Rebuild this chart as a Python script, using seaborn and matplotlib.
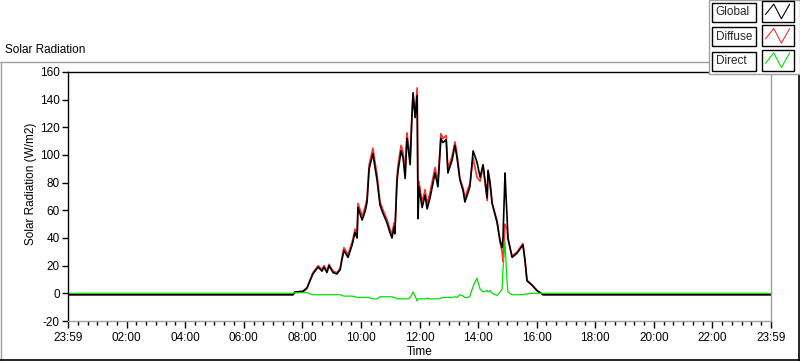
import numpy as np
import pandas as pd
import matplotlib
matplotlib.use("Agg")
import matplotlib.pyplot as plt
import seaborn as sns
from matplotlib.lines import Line2D
from matplotlib.patches import Rectangle
from matplotlib.path import Path
from matplotlib.legend_handler import HandlerBase
from matplotlib.ticker import MultipleLocator, FixedLocator

# ---------------- data (hours since 23:59 of previous day) ----------------
hours = [0, 7.68, 7.75, 8.02, 8.16, 8.26, 8.36, 8.54, 8.67, 8.74,
         8.84, 8.91, 9.05, 9.18, 9.29, 9.35, 9.42, 9.56, 9.70, 9.80,
         9.87, 9.90, 10.04, 10.14, 10.21, 10.28, 10.41, 10.48, 10.55, 10.65,
         10.75, 10.89, 10.99, 11.06, 11.13, 11.16, 11.23, 11.27, 11.37, 11.44,
         11.51, 11.57, 11.61, 11.68, 11.74, 11.78, 11.85, 11.92, 11.95, 11.98,
         12.09, 12.19, 12.26, 12.36, 12.53, 12.63, 12.73, 12.80, 12.91, 12.97,
         13.11, 13.21, 13.28, 13.38, 13.49, 13.55, 13.66, 13.72, 13.83, 13.96,
         14.07, 14.17, 14.31, 14.34, 14.41, 14.48, 14.65, 14.75, 14.82, 14.85,
         14.92, 14.95, 14.99, 15.02, 15.16, 15.33, 15.53, 15.60, 15.67, 15.84,
         16.01, 16.22, 24]

global_rad = [-1.0, -1.0, 1, 1.5, 4, 9, 14, 19, 16, 19,
              15, 20, 15, 14, 17, 24, 31, 26, 35, 44,
              40, 62, 53, 59, 66, 90, 101, 91, 82, 64,
              58, 51, 44, 40, 48, 43, 80, 89, 103, 98,
              83, 112, 106, 93, 127, 145, 127, 143, 54, 77,
              62, 71, 61, 69, 87, 77, 112, 109, 111, 87,
              96, 107, 98, 82, 74, 66, 73, 77, 103, 95,
              84, 93, 69, 89, 80, 65, 51, 38, 33, 40,
              87, 72, 55, 40, 26, 29, 35, 24, 9, 6,
              2, -1.0, -1.0]

diffuse_rad = [-1.0, -1.0, 0.5, 1, 3.5, 9.5, 15, 20, 17, 20,
               16, 21, 16, 15, 18, 25.5, 33, 28, 37, 46.5,
               43, 65, 56, 62, 69, 93, 105, 95, 86, 66.5,
               60.5, 53.5, 46.5, 42.5, 51, 46, 84, 93, 107, 102,
               87, 116, 110, 96, 128, 144, 129, 148.5, 58, 81,
               66, 75, 64.5, 73, 91, 81, 115.5, 112, 114, 90,
               99, 109.5, 101, 83, 76, 69, 76, 79, 98, 84,
               81, 92, 67, 88, 78, 65, 52.5, 37, 30, 23,
               50, 48, 47, 39, 27, 30, 36, 24.5, 9.5, 6,
               2, -1.0, -1.0]

direct_rad = [0, 0, 0.5, 0.5, 0.5, -0.5, -1, -1, -1, -1,
              -1, -1, -1, -1, -1, -1.5, -2, -2, -2, -2.5,
              -3, -3, -3, -3, -3, -3, -4, -4, -4, -2.5,
              -2.5, -2.5, -2.5, -2.5, -3, -3, -4, -4, -4, -4,
              -4, -4, -4, -3, -1, 1, -2, -5.5, -4, -4,
              -4, -4, -3.5, -4, -4, -4, -3.5, -3, -3, -3,
              -3, -2.5, -3, -1, -2, -3, -3, -2, 5, 11,
              3, 1, 2, 1, 2, 0, -1.5, 1, 3, 17,
              37, 24, 8, 1, -1, -1, -1, -0.5, -0.5, 0,
              0, 0, 0]

series_names = ["Global", "Diffuse", "Direct"]
series_colors = {"Global": "#000000", "Diffuse": "#ff3030", "Direct": "#00e000"}
tick_hours = [0, 2, 4, 6, 8, 10, 12, 14, 16, 18, 20, 22, 24]
tick_labels = ["23:59", "02:00", "04:00", "06:00", "08:00", "10:00", "12:00",
               "14:00", "16:00", "18:00", "20:00", "22:00", "23:59"]
y_ticks = [-20, 0, 20, 40, 60, 80, 100, 120, 140, 160]

df = pd.concat([
    pd.DataFrame({"Time": hours, "Value": global_rad, "Series": "Global"}),
    pd.DataFrame({"Time": hours, "Value": diffuse_rad, "Series": "Diffuse"}),
    pd.DataFrame({"Time": hours, "Value": direct_rad, "Series": "Direct"}),
], ignore_index=True)

# ---------------- figure ----------------
sns.set_theme(style="white")
plt.rcParams["font.family"] = ["Liberation Sans", "DejaVu Sans"]

W, H = 800, 361
fig = plt.figure(figsize=(8.0, 3.61), dpi=100)
fig.patch.set_facecolor("white")
ax = fig.add_axes([68 / W, 1 - 321 / H, (771 - 68) / W, (321 - 72) / H])
ax.set_facecolor("white")

sns.lineplot(data=df, x="Time", y="Value", hue="Series",
             hue_order=["Diffuse", "Global", "Direct"],
             palette=series_colors, estimator=None, sort=False,
             legend=False, ax=ax, linewidth=1.2)
for ln in ax.get_lines():
    if ln.get_color() == "#00e000":
        ln.set_linewidth(0.9)

ax.set_xlim(0, 24)
ax.set_ylim(-20, 160)
ax.xaxis.set_major_locator(FixedLocator(tick_hours))
ax.set_xticklabels(tick_labels)
ax.xaxis.set_minor_locator(MultipleLocator(1 / 3))
ax.set_yticks(y_ticks)
ax.set_yticklabels([str(v) for v in y_ticks])

ax.tick_params(axis="x", which="major", direction="out", length=5, width=1,
               color="black", labelsize=8.5, labelcolor="black", pad=3,
               bottom=True)
ax.tick_params(axis="x", which="minor", direction="out", length=3, width=1,
               color="black", bottom=True)
ax.tick_params(axis="y", which="major", direction="out", length=4, width=1,
               color="black", labelsize=8.5, labelcolor="black", pad=2,
               left=True)

for side in ["left", "top"]:
    ax.spines[side].set_color("black")
    ax.spines[side].set_linewidth(1)
    ax.spines[side].set_visible(True)
for side in ["right", "bottom"]:
    ax.spines[side].set_color("#a0a0a0")
    ax.spines[side].set_linewidth(1)
    ax.spines[side].set_visible(True)

ax.set_xlabel("Time", fontsize=8.5, color="black")
ax.xaxis.set_label_coords(0.5, -0.1)
ax.set_ylabel("Solar Radiation (W/m2)", fontsize=8.5, color="black")
ax.yaxis.set_label_coords(-0.044, 0.55)

fig.text(5 / W, 1 - 50 / H, "Solar Radiation", fontsize=8.5, ha="left",
         va="center", color="black")

# outer frame (LabVIEW-like)
fig.add_artist(Line2D([0, 717 / W], [1 - 62 / H, 1 - 62 / H], color="#a0a0a0",
                      lw=1, transform=fig.transFigure))
fig.add_artist(Line2D([0.5 / W, 0.5 / W], [1 - 62 / H, 0], color="#a0a0a0",
                      lw=1, transform=fig.transFigure))
fig.add_artist(Line2D([0, 1], [0.6 / H, 0.6 / H], color="black",
                      lw=1.2, transform=fig.transFigure))
fig.add_artist(Line2D([1 - 0.6 / W, 1 - 0.6 / W], [0, 1 - 72 / H], color="black",
                      lw=1.2, transform=fig.transFigure))


# ---------------- legend ----------------
class ZigHandler(HandlerBase):
    def create_artists(self, legend, orig_handle, xdescent, ydescent,
                       width, height, fontsize, trans):
        x0, y0 = -xdescent, -ydescent - 4
        w, h = width, height + 8
        box = Rectangle((x0, y0), w, h, fill=False, edgecolor="black",
                        lw=1.0, transform=trans)
        fx = np.array([0.12, 0.38, 0.62, 0.88])
        fy = np.array([0.35, 0.85, 0.15, 0.85])
        zig = Line2D(x0 + fx * w, y0 + fy * h, color=orig_handle.get_color(),
                     lw=0.8, transform=trans)
        return [box, zig]


handles = [Line2D([], [], color=series_colors[n]) for n in series_names]
leg = fig.legend(handles, series_names, loc="upper right",
                 bbox_to_anchor=(1.0, 1.0), bbox_transform=fig.transFigure,
                 markerfirst=False, frameon=True, fancybox=False,
                 edgecolor="#a0a0a0", facecolor="white", framealpha=1,
                 fontsize=8.5, handlelength=2.7, handleheight=0.9,
                 handletextpad=0.8, labelspacing=1.05, borderpad=0.55,
                 borderaxespad=0.0,
                 handler_map={Line2D: ZigHandler()})
leg.get_frame().set_linewidth(1)

# equal-width boxes around legend labels, text left-aligned inside
fig.canvas.draw()
renderer = fig.canvas.get_renderer()
widths = [t.get_window_extent(renderer).width for t in leg.get_texts()]
maxw = max(widths)


def make_box(extra):
    def box(x0, y0, width, height, mutation_size):
        pad = 0.3 * mutation_size
        l = x0 - pad
        r = x0 + width + pad + extra
        b = y0 - pad
        t = y0 + height + pad
        return Path([(l, b), (r, b), (r, t), (l, t), (l, b)], closed=True)
    return box


for t, w in zip(leg.get_texts(), widths):
    extra = maxw - w
    px, py = t.get_position()
    t.set_position((px - extra, py))
    t.set_bbox(dict(boxstyle=make_box(extra), facecolor="white",
                    edgecolor="black", linewidth=1))

fig.savefig("out.png", dpi=100)
